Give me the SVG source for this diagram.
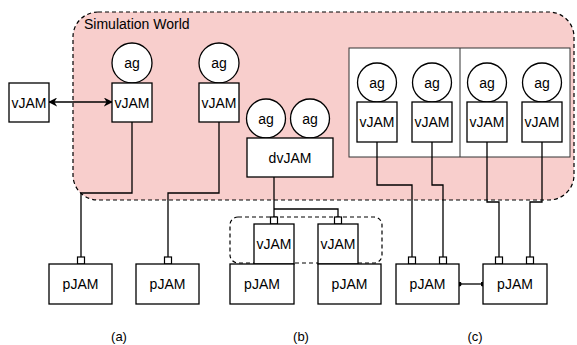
<svg xmlns="http://www.w3.org/2000/svg" width="577" height="345" viewBox="0 0 577 345">
  <style>
    text { font-family: "Liberation Sans", Arial, Helvetica, sans-serif; font-size: 14px; fill: #000; text-anchor: middle; dominant-baseline: central; }
    .box { fill: #fff; stroke: #000; stroke-width: 1.3; }
    .port { fill: #fff; stroke: #000; stroke-width: 1.2; }
    .wire { fill: none; stroke: #000; stroke-width: 1.3; }
    .zone { fill: #f8cecc; stroke: #000; stroke-width: 1.2; stroke-dasharray: 4 3; }
    .group { fill: none; stroke: #000; stroke-width: 1.2; stroke-dasharray: 4 3; }
    .frame { fill: #fff; stroke: #333; stroke-width: 1; }
    .caption { font-size: 13px; }
  </style>
  <defs>
    <marker id="arrow" viewBox="0 0 10 10" refX="9" refY="5" markerWidth="9" markerHeight="9" markerUnits="userSpaceOnUse" orient="auto-start-reverse">
      <path d="M0,0 L10,5 L0,10 L3,5 Z" fill="#000"/>
    </marker>
    <marker id="dot" viewBox="0 0 6 6" refX="3" refY="3" markerWidth="5" markerHeight="5" markerUnits="userSpaceOnUse">
      <circle cx="3" cy="3" r="3" fill="#000"/>
    </marker>
  </defs>

  <!-- simulation world area -->
  <g id="simulation-world">
    <rect class="zone" x="73" y="12" width="501" height="188" rx="25" ry="25"/>
    <text x="84" y="24" style="text-anchor:start">Simulation World</text>
  </g>

  <!-- (b) virtual node group -->
  <g id="group-b">
    <rect class="group" x="230" y="217" width="152" height="46" rx="8" ry="8"/>
  </g>

  <!-- (c) host frames -->
  <g id="frame-c">
    <rect class="frame" x="349" y="48" width="221" height="109"/>
    <line x1="460" y1="48" x2="460" y2="157" stroke="#333" stroke-width="1"/>
  </g>

  <!-- connectors -->
  <g id="connectors">
    <line class="wire" x1="49" y1="102" x2="112" y2="102" marker-start="url(#arrow)" marker-end="url(#arrow)"/>
    <polyline class="wire" points="132,122 132,193 81,193 81,257"/>
    <polyline class="wire" points="219,122 219,193 168,193 168,257"/>
    <polyline class="wire" points="274,177 274,217"/>
    <polyline class="wire" points="274,209 338,209 338,217"/>
    <polyline class="wire" points="377,142 377,185 412,185 412,257"/>
    <polyline class="wire" points="432,142 432,185 443,185 443,257"/>
    <polyline class="wire" points="487,142 487,202 499,202 499,257"/>
    <polyline class="wire" points="542,142 542,202 530,202 530,257"/>
    <line class="wire" x1="459" y1="284" x2="483" y2="284" marker-start="url(#dot)" marker-end="url(#dot)"/>
  </g>

  <!-- (a) -->
  <g id="vjam-ext">
    <rect class="box" x="9" y="83" width="40" height="39"/>
    <text x="29" y="102.5">vJAM</text>
  </g>
  <g id="ag-a1">
    <circle class="box" cx="132" cy="63" r="20"/>
    <text x="132" y="63">ag</text>
  </g>
  <g id="vjam-a1">
    <rect class="box" x="112" y="83" width="40" height="39"/>
    <text x="132" y="102.5">vJAM</text>
  </g>
  <g id="ag-a2">
    <circle class="box" cx="219" cy="63" r="20"/>
    <text x="219" y="63">ag</text>
  </g>
  <g id="vjam-a2">
    <rect class="box" x="199" y="83" width="40" height="39"/>
    <text x="219" y="102.5">vJAM</text>
  </g>
  <g id="pjam-a1">
    <rect class="port" x="77.5" y="257" width="7" height="7"/>
    <rect class="box" x="49" y="264" width="63" height="40"/>
    <text x="80.5" y="284">pJAM</text>
  </g>
  <g id="pjam-a2">
    <rect class="port" x="164.5" y="257" width="7" height="7"/>
    <rect class="box" x="136" y="264" width="63" height="40"/>
    <text x="167.5" y="284">pJAM</text>
  </g>

  <!-- (b) -->
  <g id="ag-b1">
    <circle class="box" cx="266" cy="118.5" r="19.5"/>
    <text x="266" y="118.5">ag</text>
  </g>
  <g id="ag-b2">
    <circle class="box" cx="310" cy="118.5" r="19.5"/>
    <text x="310" y="118.5">ag</text>
  </g>
  <g id="dvjam">
    <rect class="box" x="247" y="138" width="86" height="39"/>
    <text x="290" y="157.5">dvJAM</text>
  </g>
  <g id="vjam-b1">
    <rect class="port" x="270.5" y="217" width="7" height="7"/>
    <rect class="box" x="254" y="224" width="40" height="40"/>
    <text x="274" y="244">vJAM</text>
  </g>
  <g id="vjam-b2">
    <rect class="port" x="334.5" y="217" width="7" height="7"/>
    <rect class="box" x="318" y="224" width="40" height="40"/>
    <text x="338" y="244">vJAM</text>
  </g>
  <g id="pjam-b1">
    <rect class="box" x="230" y="264" width="64" height="40"/>
    <text x="262" y="284">pJAM</text>
  </g>
  <g id="pjam-b2">
    <rect class="box" x="318" y="264" width="63" height="40"/>
    <text x="349.5" y="284">pJAM</text>
  </g>

  <!-- (c) -->
  <g id="ag-c1">
    <circle class="box" cx="377" cy="82.5" r="19.5"/>
    <text x="377" y="82.5">ag</text>
  </g>
  <g id="vjam-c1">
    <rect class="box" x="357" y="102" width="40" height="40"/>
    <text x="377" y="122">vJAM</text>
  </g>
  <g id="ag-c2">
    <circle class="box" cx="432" cy="82.5" r="19.5"/>
    <text x="432" y="82.5">ag</text>
  </g>
  <g id="vjam-c2">
    <rect class="box" x="412" y="102" width="40" height="40"/>
    <text x="432" y="122">vJAM</text>
  </g>
  <g id="ag-c3">
    <circle class="box" cx="487" cy="82.5" r="19.5"/>
    <text x="487" y="82.5">ag</text>
  </g>
  <g id="vjam-c3">
    <rect class="box" x="467" y="102" width="40" height="40"/>
    <text x="487" y="122">vJAM</text>
  </g>
  <g id="ag-c4">
    <circle class="box" cx="542" cy="82.5" r="19.5"/>
    <text x="542" y="82.5">ag</text>
  </g>
  <g id="vjam-c4">
    <rect class="box" x="522" y="102" width="40" height="40"/>
    <text x="542" y="122">vJAM</text>
  </g>
  <g id="pjam-c1">
    <rect class="port" x="408.5" y="257" width="7" height="7"/>
    <rect class="port" x="439.5" y="257" width="7" height="7"/>
    <rect class="box" x="396" y="264" width="63" height="40"/>
    <text x="427.5" y="284">pJAM</text>
  </g>
  <g id="pjam-c2">
    <rect class="port" x="495.5" y="257" width="7" height="7"/>
    <rect class="port" x="526.5" y="257" width="7" height="7"/>
    <rect class="box" x="483" y="264" width="64" height="40"/>
    <text x="515" y="284">pJAM</text>
  </g>

  <!-- captions -->
  <g id="captions">
    <text class="caption" x="119" y="336">(a)</text>
    <text class="caption" x="301" y="336">(b)</text>
    <text class="caption" x="475" y="336">(c)</text>
  </g>
</svg>
